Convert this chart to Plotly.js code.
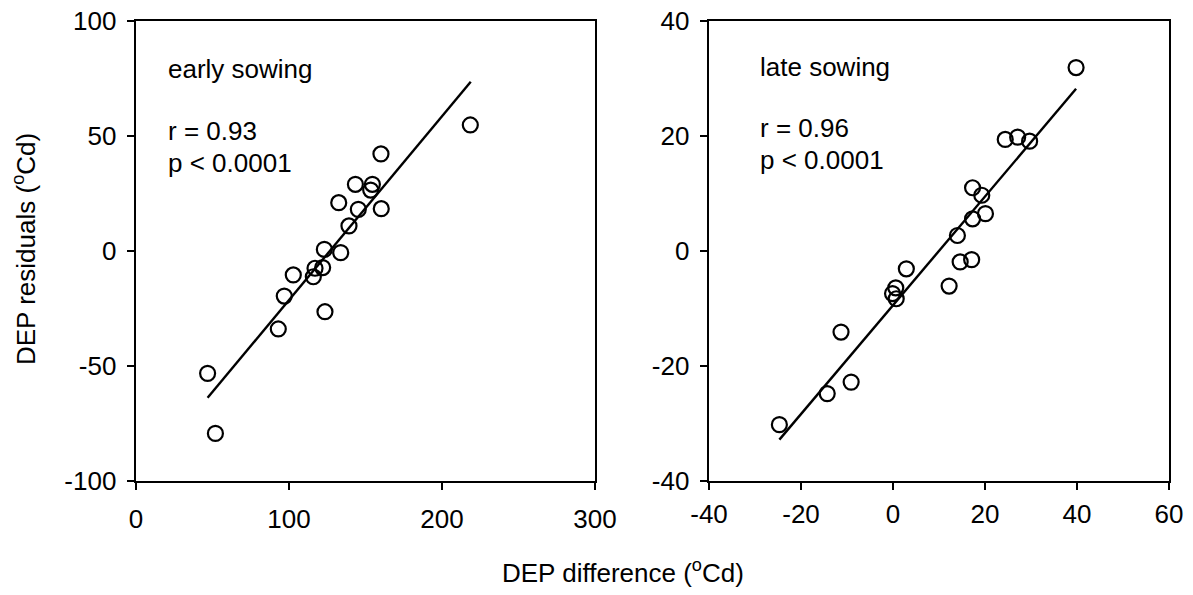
<!DOCTYPE html>
<html>
<head>
<meta charset="utf-8">
<script src="https://cdn.plot.ly/plotly-3.0.1.min.js"></script>
<style>html,body{margin:0;padding:0;background:#fff;}#chart{width:1193px;height:595px;}</style>
</head>
<body>
<div id="chart"></div>
<script>
// Early sowing data
const earlyX = [46.8, 51.9, 93.0, 96.9, 102.8, 115.9, 117.0, 122.0, 123.5, 123.1, 133.8, 139.2, 132.5, 145.3, 143.4, 154.5, 153.4, 160.1, 160.3, 218.5];
const earlyY = [-53.2, -79.3, -33.9, -19.6, -10.4, -11.2, -7.5, -7.2, -26.4, 0.7, -0.7, 10.9, 21.0, 18.1, 29.0, 29.0, 26.5, 42.2, 18.4, 54.8];
const earlyFitX = [46.8, 218.8];
const earlyFitY = [-63.8, 73.6];

// Late sowing data
const lateX = [-24.7, -14.3, -9.1, -11.3, -0.1, 0.7, 0.6, 2.9, 12.2, 14.6, 17.1, 14.0, 17.3, 20.1, 19.3, 17.3, 24.4, 27.1, 29.7, 39.8];
const lateY = [-30.2, -24.8, -22.8, -14.1, -7.4, -8.3, -6.4, -3.1, -6.1, -1.9, -1.5, 2.7, 5.6, 6.5, 9.7, 11.0, 19.4, 19.8, 19.1, 31.9];
const lateFitX = [-24.7, 39.8];
const lateFitY = [-32.8, 28.2];

// Tick labels
const earlyXTicks = [0, 100, 200, 300];
const earlyXLabels = ["0", "100", "200", "300"];
const earlyYTicks = [-100, -50, 0, 50, 100];
const earlyYLabels = ["-100", "-50", "0", "50", "100"];
const lateXTicks = [-40, -20, 0, 20, 40, 60];
const lateXLabels = ["-40", "-20", "0", "20", "40", "60"];
const lateYTicks = [-40, -20, 0, 20, 40];
const lateYLabels = ["-40", "-20", "0", "20", "40"];

const FONT = "Liberation Sans, Arial, sans-serif";
const FS = 26;

const markerStyle = {symbol: 'circle-open', size: 15, color: '#000', line: {width: 2.2, color: '#000'}};
const lineStyle = {color: '#000', width: 2.4};

const traces = [
  {x: earlyFitX, y: earlyFitY, mode: 'lines', line: lineStyle, xaxis: 'x', yaxis: 'y', hoverinfo: 'skip'},
  {x: earlyX, y: earlyY, mode: 'markers', marker: markerStyle, xaxis: 'x', yaxis: 'y'},
  {x: lateFitX, y: lateFitY, mode: 'lines', line: lineStyle, xaxis: 'x2', yaxis: 'y2', hoverinfo: 'skip'},
  {x: lateX, y: lateY, mode: 'markers', marker: markerStyle, xaxis: 'x2', yaxis: 'y2'}
];

const W = 1193, H = 595;
const yDom = [1 - 481/H, 1 - 21/H];

function axis(domain, range, tv, tt, anchor, standoff) {
  return {
    domain: domain, range: range, tickmode: 'array', tickvals: tv, ticktext: tt,
    showgrid: false, zeroline: false, showline: true, linecolor: '#000', linewidth: 2.4,
    mirror: true, ticks: 'outside', ticklen: 7, tickwidth: 2.4, tickcolor: '#000',
    ticklabelstandoff: standoff,
    tickfont: {family: FONT, size: FS, color: '#000'}, anchor: anchor, automargin: false
  };
}

const ann = [];
function txt(x, y, s, extra) {
  return Object.assign({x: x, y: y, xref: 'paper', yref: 'paper', text: s, showarrow: false,
    xanchor: 'left', yanchor: 'middle', font: {family: FONT, size: FS, color: '#000'}}, extra || {});
}
ann.push(txt(166/W, 1 - 69/H, 'early sowing'));
ann.push(txt(166/W, 1 - 131/H, 'r = 0.93'));
ann.push(txt(166/W, 1 - 163/H, 'p &lt; 0.0001'));
ann.push(txt(758/W, 1 - 67/H, 'late sowing'));
ann.push(txt(758/W, 1 - 128/H, 'r = 0.96'));
ann.push(txt(758/W, 1 - 160/H, 'p &lt; 0.0001'));
ann.push(txt(623/W, 1 - 571/H, 'DEP difference (<sup>o</sup>Cd)', {xanchor: 'center'}));
ann.push(txt(24/W, 1 - 249/H, 'DEP residuals (<sup>o</sup>Cd)', {xanchor: 'center', textangle: -90}));

const layout = {
  width: W, height: H,
  margin: {l: 0, r: 0, t: 0, b: 0},
  paper_bgcolor: '#fff', plot_bgcolor: '#fff',
  showlegend: false,
  font: {family: FONT, size: FS, color: '#000'},
  xaxis: axis([136/W, 595/W], [0, 300], earlyXTicks, earlyXLabels, 'y', 6),
  yaxis: axis(yDom, [-100, 100], earlyYTicks, earlyYLabels, 'x', 5),
  xaxis2: axis([709/W, 1169/W], [-40, 60], lateXTicks, lateXLabels, 'y2', 1),
  yaxis2: axis(yDom, [-40, 40], lateYTicks, lateYLabels, 'x2', 5),
  annotations: ann
};

Plotly.newPlot('chart', traces, layout, {staticPlot: true, displayModeBar: false});
</script>
</body>
</html>
